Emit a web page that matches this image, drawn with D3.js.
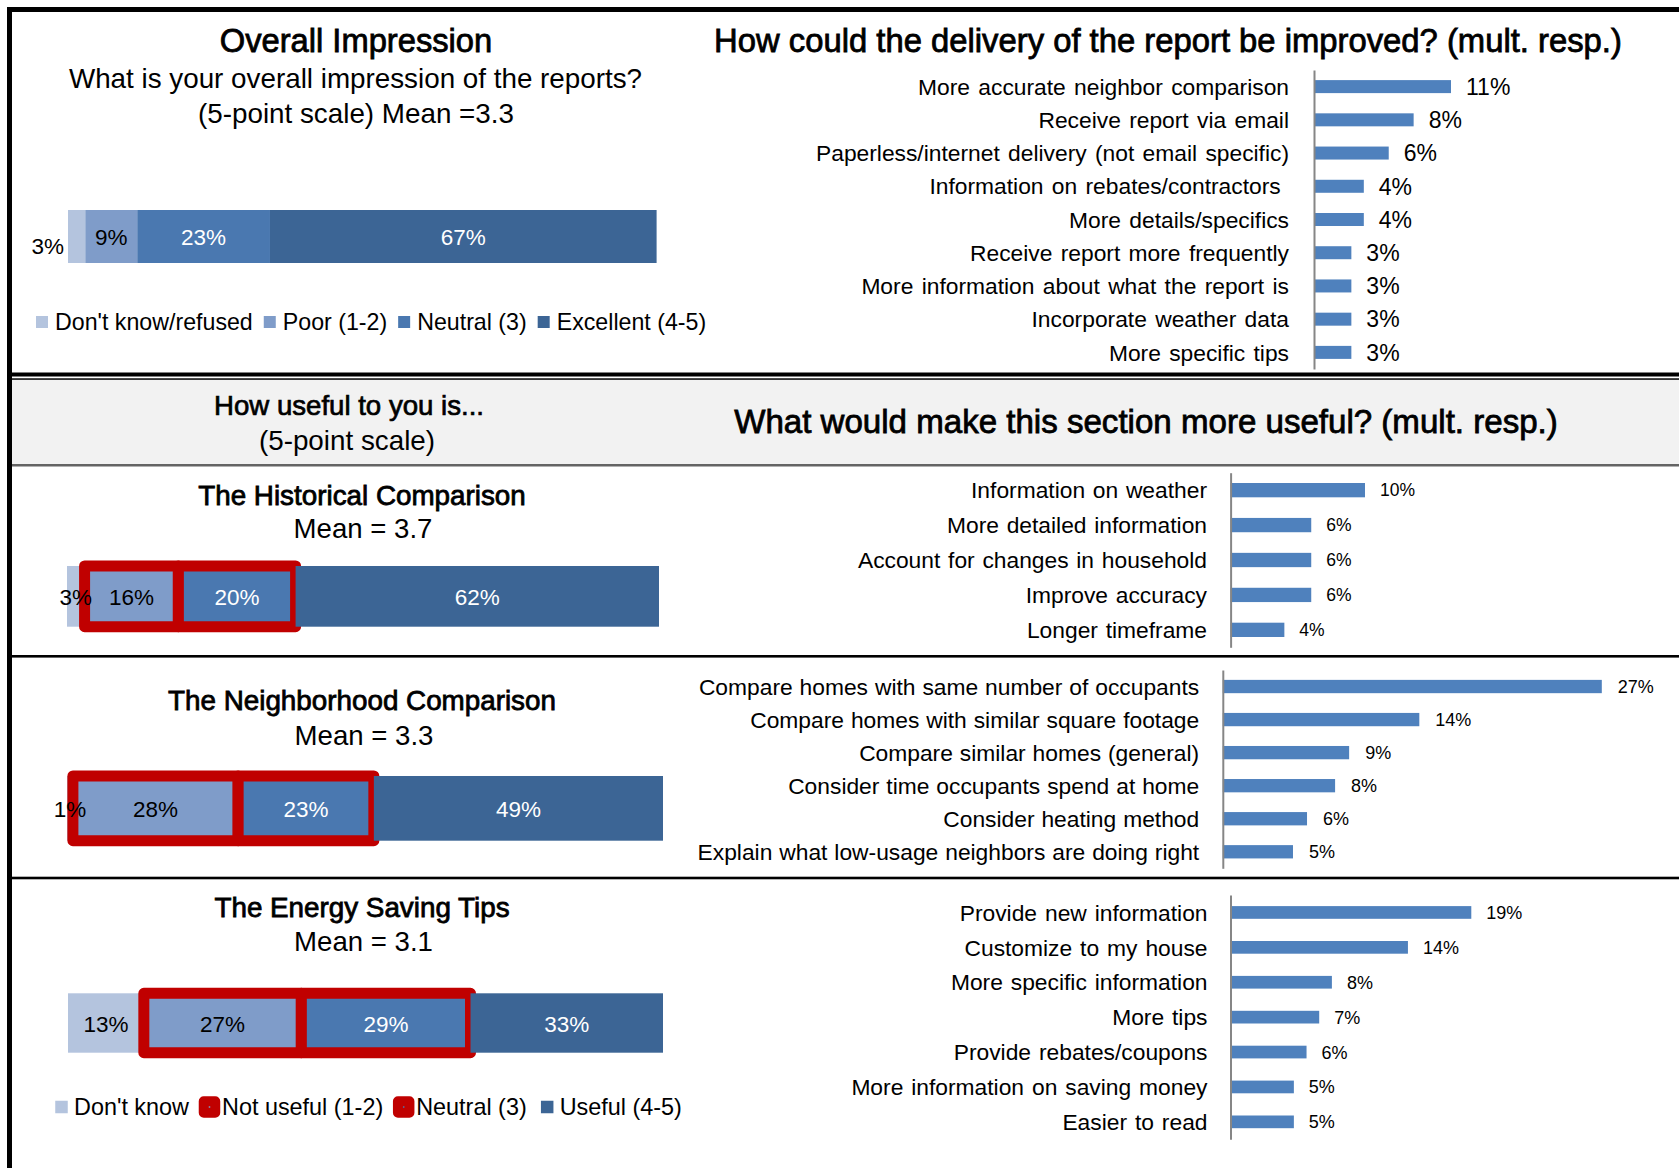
<!DOCTYPE html>
<html>
<head>
<meta charset="utf-8">
<script src="https://cdn.jsdelivr.net/npm/d3@7"></script>
<style>
  html, body { margin: 0; padding: 0; background: #ffffff; }
  svg { display: block; font-family: "Liberation Sans", Arial, sans-serif; }
</style>
</head>
<body>
<svg id="chart" width="1679" height="1168"></svg>
<script>
// ---- Rating scales used by the stacked bars ----
const overallCategories = ["Don't know/refused", "Poor (1-2)", "Neutral (3)", "Excellent (4-5)"];
const usefulCategories = ["Don't know", "Not useful (1-2)", "Neutral (3)", "Useful (4-5)"];
const ratingColors = ["#b4c4de", "#7f9cc9", "#4a78b0", "#3c6595"];
const ratingTextColors = ["#000000", "#000000", "#ffffff", "#ffffff"];
const highlightedRatings = [false, true, true, false];   // outlined in red on the "useful" bars

// ---- Stacked bar values (percent) ----
const overallValues = [3, 9, 23, 67];
const historicalValues = [3, 16, 20, 62];
const neighborhoodValues = [1, 28, 23, 49];
const tipsValues = [13, 27, 29, 33];
const meanScores = [3.3, 3.7, 3.3, 3.1];   // overall, historical, neighborhood, tips

// ---- Multiple-response bar charts ----
const deliveryLabels = [
  "More accurate neighbor comparison",
  "Receive report via email",
  "Paperless/internet delivery (not email specific)",
  "Information on rebates/contractors ",
  "More details/specifics",
  "Receive report more frequently",
  "More information about what the report is",
  "Incorporate weather data",
  "More specific tips"
];
const deliveryValues = [11, 8, 6, 4, 4, 3, 3, 3, 3];

const historicalLabels = [
  "Information on weather",
  "More detailed information",
  "Account for changes in household",
  "Improve accuracy",
  "Longer timeframe"
];
const historicalImproveValues = [10, 6, 6, 6, 4];

const neighborhoodLabels = [
  "Compare homes with same number of occupants",
  "Compare homes with similar square footage",
  "Compare similar homes (general)",
  "Consider time occupants spend at home",
  "Consider heating method",
  "Explain what low-usage neighbors are doing right"
];
const neighborhoodImproveValues = [27, 14, 9, 8, 6, 5];

const tipsLabels = [
  "Provide new information",
  "Customize to my house",
  "More specific information",
  "More tips",
  "Provide rebates/coupons",
  "More information on saving money",
  "Easier to read"
];
const tipsImproveValues = [19, 14, 8, 7, 6, 5, 5];

// ---- Drawing ----
const W = 1679, H = 1168;
const RED = "#c00000";
const BAR_BLUE = "#4f81bd";
const AXIS_GREY = "#868686";
const svg = d3.select("#chart");

// Page frame, header band and section rules
const frame = svg.append("g");
frame.append("rect").attr("x", 12).attr("y", 380).attr("width", W - 12).attr("height", 84).attr("fill", "#f2f2f2");
frame.append("rect").attr("x", 12).attr("y", 464).attr("width", W - 12).attr("height", 2.5).attr("fill", "#646464");
frame.append("rect").attr("x", 7).attr("y", 7).attr("width", W - 7).attr("height", 5).attr("fill", "#000");
frame.append("rect").attr("x", 7).attr("y", 7).attr("width", 5).attr("height", H - 7).attr("fill", "#000");
frame.append("rect").attr("x", 7).attr("y", 372.5).attr("width", W - 7).attr("height", 4).attr("fill", "#000");
frame.append("rect").attr("x", 7).attr("y", 378.3).attr("width", W - 7).attr("height", 1.5).attr("fill", "#000");
frame.append("rect").attr("x", 7).attr("y", 655).attr("width", W - 7).attr("height", 2.6).attr("fill", "#000");
frame.append("rect").attr("x", 7).attr("y", 876.7).attr("width", W - 7).attr("height", 2.6).attr("fill", "#000");

function text(g, str, x, y, size, opts = {}) {
  const t = g.append("text")
    .attr("x", x).attr("y", y)
    .attr("font-size", size)
    .attr("text-anchor", opts.anchor || "middle")
    .attr("fill", opts.fill || "#000")
    .text(str);
  if (opts.heavy) t.attr("stroke", opts.fill || "#000").attr("stroke-width", opts.heavy);
  return t;
}

// Headings
const heads = svg.append("g");
text(heads, "Overall Impression", 356, 51.7, 32.7, { heavy: 0.8 });
text(heads, "What is your overall impression of the reports?", 355.5, 88.3, 27.8);
text(heads, `(5-point scale) Mean =${meanScores[0]}`, 356, 123, 27.8);
text(heads, "How could the delivery of the report be improved? (mult. resp.)", 1168, 51.7, 32.8, { heavy: 0.8 });
text(heads, "How useful to you is...", 349, 415, 27.6, { heavy: 0.7 });
text(heads, "(5-point scale)", 347, 449.5, 27.8);
text(heads, "What would make this section more useful? (mult. resp.)", 1146, 433.3, 33.1, { heavy: 0.8 });
text(heads, "The Historical Comparison", 362, 505, 27.8, { heavy: 0.8 });
text(heads, `Mean = ${meanScores[1]}`, 363, 538.3, 27.6);
text(heads, "The Neighborhood Comparison", 362, 710, 27.8, { heavy: 0.8 });
text(heads, `Mean = ${meanScores[2]}`, 364, 745, 27.6);
text(heads, "The Energy Saving Tips", 362, 916.7, 27.8, { heavy: 0.8 });
text(heads, `Mean = ${meanScores[3]}`, 363.5, 950.7, 27.6);

// Stacked 100% bar with value labels
function stackedBar(cfg) {
  const g = svg.append("g");
  const total = d3.sum(cfg.values);
  const x = d3.scaleLinear().domain([0, total]).range([cfg.x0, cfg.x1]);
  const ends = d3.cumsum(cfg.values);
  const segs = cfg.values.map((v, i) => ({ v, i, start: i ? ends[i - 1] : 0, end: ends[i] }));
  const cy = (cfg.y0 + cfg.y1) / 2;

  g.selectAll("rect.seg").data(segs).join("rect")
    .attr("class", "seg")
    .attr("x", d => x(d.start))
    .attr("width", d => x(d.end) - x(d.start))
    .attr("y", cfg.y0)
    .attr("height", cfg.y1 - cfg.y0)
    .attr("fill", d => ratingColors[d.i])
    .attr("stroke", d => (cfg.highlight && highlightedRatings[d.i]) ? RED : "none")
    .attr("stroke-width", 11)
    .attr("stroke-linejoin", "round");

  g.selectAll("text.val").data(segs).join("text")
    .attr("class", "val")
    .attr("font-size", 22.5)
    .attr("fill", d => ratingTextColors[d.i])
    .attr("text-anchor", d => (cfg.firstOutside && d.i === 0) ? "end" : "middle")
    .attr("x", d => (cfg.firstOutside && d.i === 0) ? x(d.start) - 4 : x((d.start + d.end) / 2))
    .attr("y", d => (cfg.firstOutside && d.i === 0) ? cy + 17.5 : cy + 8.5)
    .text(d => d.v + "%");
}

stackedBar({ values: overallValues, x0: 68, x1: 656.6, y0: 210, y1: 263, firstOutside: true });
stackedBar({ values: historicalValues, x0: 67, x1: 659, y0: 566, y1: 626.7, highlight: true });
stackedBar({ values: neighborhoodValues, x0: 67, x1: 663, y0: 776, y1: 840.7, highlight: true });
stackedBar({ values: tipsValues, x0: 68, x1: 663, y0: 993.3, y1: 1052.7, highlight: true });

// Legends
function legend(cfg) {
  const g = svg.append("g");
  let cx = cfg.startX;
  cfg.labels.forEach((lab, i) => {
    const hl = cfg.highlight && highlightedRatings[i];
    const s = hl ? 11.5 : cfg.keySize;
    g.append("rect")
      .attr("x", cx - s / 2).attr("y", cfg.y - 8 - s / 2)
      .attr("width", s).attr("height", s)
      .attr("fill", ratingColors[i])
      .attr("stroke", hl ? RED : "none")
      .attr("stroke-width", hl ? 10 : 0)
      .attr("stroke-linejoin", "round");
    const t = g.append("text")
      .attr("x", cx + cfg.textOffset).attr("y", cfg.y)
      .attr("font-size", cfg.fontSize).attr("fill", "#000")
      .text(lab);
    const w = t.node().getComputedTextLength();
    cx = cx + cfg.textOffset + w + cfg.gap;
  });
}
legend({ labels: overallCategories, startX: 42, y: 330, keySize: 12, textOffset: 13, gap: 17, fontSize: 23.2 });
legend({ labels: usefulCategories, startX: 61.5, y: 1115, keySize: 12.5, textOffset: 12.5, gap: 20.5, fontSize: 23.4, highlight: true });

// Horizontal bar chart with category axis on the left
function barChart(cfg) {
  const g = svg.append("g");
  const y = d3.scaleBand().domain(cfg.labels).range([cfg.top, cfg.bottom]).padding(0);
  const x = d3.scaleLinear().domain([0, d3.max(cfg.values)]).range([0, cfg.maxLen]);
  const data = cfg.labels.map((l, i) => ({ l, v: cfg.values[i] }));
  const mid = d => y(d.l) + y.bandwidth() / 2;

  g.selectAll("rect.bar").data(data).join("rect")
    .attr("class", "bar")
    .attr("x", cfg.axisX)
    .attr("width", d => x(d.v))
    .attr("y", d => mid(d) - cfg.barH / 2)
    .attr("height", cfg.barH)
    .attr("fill", BAR_BLUE);

  const axis = g.append("g")
    .attr("transform", `translate(${cfg.axisX},0)`)
    .call(d3.axisLeft(y).tickSize(0).tickSizeOuter(0).tickPadding(cfg.axisX - cfg.labelRight));
  axis.select(".domain").attr("stroke", AXIS_GREY).attr("stroke-width", 2);
  axis.selectAll(".tick text")
    .attr("font-family", "'Liberation Sans', Arial, sans-serif")
    .attr("font-size", cfg.labelSize)
    .attr("fill", "#000")
    .attr("dy", "0.36em")
    .attr("xml:space", "preserve")
    .style("white-space", "pre")
    .style("word-spacing", cfg.wordSpacing + "px");
  axis.attr("font-family", null);

  g.selectAll("text.val").data(data).join("text")
    .attr("class", "val")
    .attr("x", d => cfg.axisX + x(d.v) + cfg.valueGap)
    .attr("y", d => mid(d) + cfg.valueSize * 0.36)
    .attr("font-size", cfg.valueSize)
    .attr("fill", "#000")
    .text(d => d.v + "%");
}

barChart({ labels: deliveryLabels, values: deliveryValues, axisX: 1314, top: 70, bottom: 369,
  barH: 13, maxLen: 137, labelRight: 1289, labelSize: 22.8, wordSpacing: 2, valueSize: 23, valueGap: 15 });
barChart({ labels: historicalLabels, values: historicalImproveValues, axisX: 1230.6, top: 472.7, bottom: 647.3,
  barH: 14.3, maxLen: 134.4, labelRight: 1207, labelSize: 22.8, wordSpacing: 1.4, valueSize: 17.5, valueGap: 15 });
barChart({ labels: neighborhoodLabels, values: neighborhoodImproveValues, axisX: 1222.8, top: 670, bottom: 868.3,
  barH: 13.3, maxLen: 379, labelRight: 1199.2, labelSize: 22.8, wordSpacing: 0.6, valueSize: 18, valueGap: 16 });
barChart({ labels: tipsLabels, values: tipsImproveValues, axisX: 1230.5, top: 895, bottom: 1139.3,
  barH: 12.7, maxLen: 240.8, labelRight: 1207.5, labelSize: 22.8, wordSpacing: 1.6, valueSize: 18, valueGap: 15 });
</script>
</body>
</html>
